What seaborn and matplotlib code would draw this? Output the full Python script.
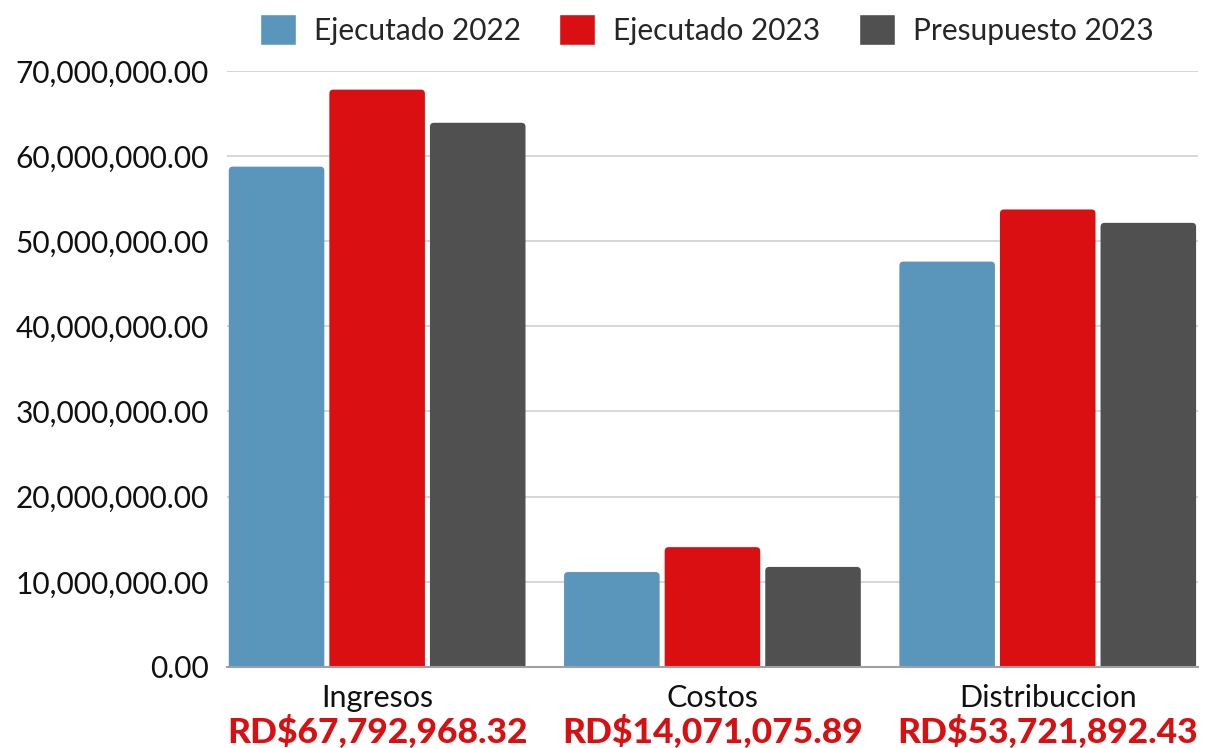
import matplotlib
matplotlib.use("Agg")
import matplotlib.pyplot as plt
import matplotlib.transforms as mtransforms
from matplotlib.patches import FancyBboxPatch
from matplotlib.ticker import FuncFormatter
import pandas as pd
import seaborn as sns

categorias = ["Ingresos", "Costos", "Distribuccion"]
series = ["Ejecutado 2022", "Ejecutado 2023", "Presupuesto 2023"]
ejecutado_2022 = [58_750_000, 11_150_000, 47_600_000]
ejecutado_2023 = [67_792_968.32, 14_071_075.89, 53_721_892.43]
presupuesto_2023 = [63_900_000, 11_750_000, 52_150_000]
totales = ["RD$67,792,968.32", "RD$14,071,075.89", "RD$53,721,892.43"]
colores = ["#5A96BC", "#DA0F11", "#505050"]

df = pd.DataFrame({
    "categoria": categorias * 3,
    "serie": [s for s in series for _ in categorias],
    "valor": ejecutado_2022 + ejecutado_2023 + presupuesto_2023,
})

sns.set_style("white")
plt.rcParams["font.family"] = ["Lato", "DejaVu Sans"]

fig = plt.figure(figsize=(12.07, 7.48), dpi=100)
ax = fig.add_axes([0.188, 0.1083, 0.8045, 0.797])

sns.barplot(data=df, x="categoria", y="valor", hue="serie", order=categorias,
            hue_order=series, palette=colores, width=0.9, gap=0.05,
            saturation=1, ax=ax, legend=True)

ax.set_xlim(-0.448, 2.448)
ax.set_ylim(0, 70_000_000)
ax.set_yticks(range(0, 70_000_001, 10_000_000))
ax.yaxis.set_major_formatter(FuncFormatter(lambda v, p: f"{v:,.2f}"))
ax.grid(axis="y", color="#d0d0d0", linewidth=1.2)
ax.set_axisbelow(True)
for s in ["top", "right", "left"]:
    ax.spines[s].set_visible(False)
ax.spines["bottom"].set_color("#a0a0a0")
ax.spines["bottom"].set_linewidth(1.5)
ax.spines["bottom"].set_zorder(5)
ax.tick_params(axis="y", length=0, labelsize=21.5, colors="#111111", pad=13)
ax.tick_params(axis="x", length=0, labelsize=22, colors="#111111", pad=12)
ax.set_xlabel("")
ax.set_ylabel("")

# rounded tops: the box starts below zero so its lower corners are clipped away
px_x = 2.896 / (0.8045 * 1207)
px_y = 70_000_000 / (0.797 * 748)
radius = 4 * px_x
for bar in list(ax.patches):
    x, y, w, h = bar.get_x(), bar.get_y(), bar.get_width(), bar.get_height()
    if h <= 0:
        continue
    color = bar.get_facecolor()
    bar.set_visible(False)
    extra = 12 * px_y
    ax.add_patch(FancyBboxPatch((x, y - extra), w, h + extra,
                                boxstyle=f"round,pad=0,rounding_size={radius}",
                                mutation_aspect=px_y / px_x, facecolor=color,
                                edgecolor="none", zorder=3))

# red totals below the category names
trans = mtransforms.blended_transform_factory(ax.transData, ax.transAxes)
for i, t in enumerate(totales):
    ax.text(i, -0.138, t, transform=trans, ha="center", va="bottom",
            fontsize=25.5, fontweight="black", color="#DA0F11")

handles, labels = ax.get_legend_handles_labels()
ax.legend(handles, labels, loc="upper center", bbox_to_anchor=(0.494, 1.14),
          ncol=3, frameon=False, fontsize=21.5, handlelength=1.2, handleheight=1.2,
          columnspacing=1.3, handletextpad=0.6)

fig.savefig("out.png", dpi=100)
